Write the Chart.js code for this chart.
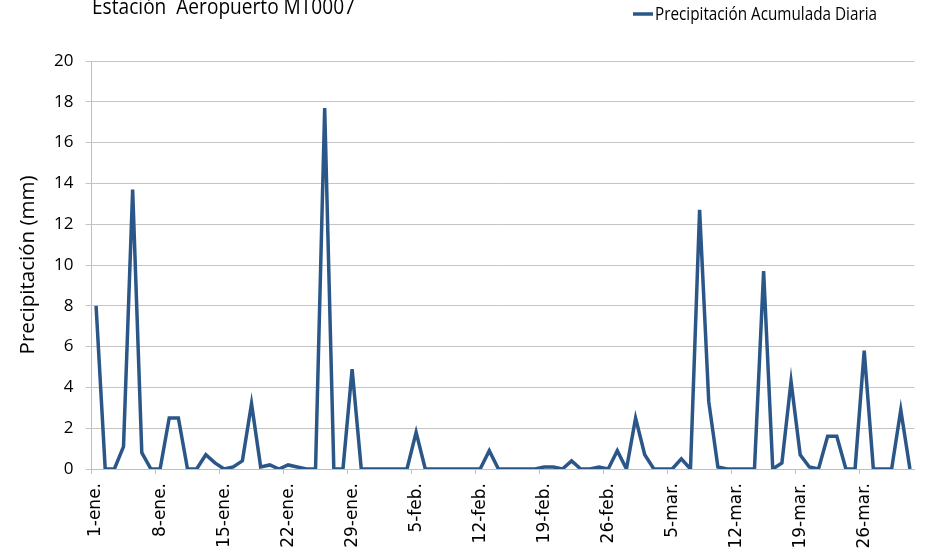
<!DOCTYPE html>
<html>
<head>
<meta charset="utf-8">
<script src="https://cdn.jsdelivr.net/npm/chart.js@4.4.1/dist/chart.umd.min.js"></script>
<style>
html,body{margin:0;padding:0;background:#fff;}
#wrap{width:926px;height:552px;position:relative;}
</style>
</head>
<body>
<div id="wrap"><canvas id="c" width="926" height="552"></canvas></div>
<script>
const chartTitle = 'Estación  Aeropuerto MT0007';
const seriesName = 'Precipitación Acumulada Diaria';
const yAxisTitle = 'Precipitación (mm)';

const categories = [
 '1-ene.','2-ene.','3-ene.','4-ene.','5-ene.','6-ene.','7-ene.','8-ene.','9-ene.','10-ene.',
 '11-ene.','12-ene.','13-ene.','14-ene.','15-ene.','16-ene.','17-ene.','18-ene.','19-ene.','20-ene.',
 '21-ene.','22-ene.','23-ene.','24-ene.','25-ene.','26-ene.','27-ene.','28-ene.','29-ene.','30-ene.','31-ene.',
 '1-feb.','2-feb.','3-feb.','4-feb.','5-feb.','6-feb.','7-feb.','8-feb.','9-feb.','10-feb.',
 '11-feb.','12-feb.','13-feb.','14-feb.','15-feb.','16-feb.','17-feb.','18-feb.','19-feb.','20-feb.',
 '21-feb.','22-feb.','23-feb.','24-feb.','25-feb.','26-feb.','27-feb.','28-feb.',
 '1-mar.','2-mar.','3-mar.','4-mar.','5-mar.','6-mar.','7-mar.','8-mar.','9-mar.','10-mar.',
 '11-mar.','12-mar.','13-mar.','14-mar.','15-mar.','16-mar.','17-mar.','18-mar.','19-mar.','20-mar.',
 '21-mar.','22-mar.','23-mar.','24-mar.','25-mar.','26-mar.','27-mar.','28-mar.','29-mar.','30-mar.','31-mar.'
];

const precipitation = [
 8.0, 0, 0, 1.1, 13.7, 0.8, 0, 0, 2.5, 2.5,
 0, 0, 0.7, 0.3, 0, 0.1, 0.4, 3.2, 0.1, 0.2,
 0, 0.2, 0.1, 0, 0, 17.7, 0, 0, 4.9, 0, 0,
 0, 0, 0, 0, 1.8, 0, 0, 0, 0, 0,
 0, 0, 0.9, 0, 0, 0, 0, 0, 0.1, 0.1,
 0, 0.4, 0, 0, 0.1, 0, 0.9, 0,
 2.5, 0.7, 0, 0, 0, 0.5, 0, 12.7, 3.3, 0.1,
 0, 0, 0, 0, 9.7, 0, 0.3, 4.3, 0.7, 0.1,
 0, 1.6, 1.6, 0, 0, 5.8, 0, 0, 0, 2.9, 0
];

const tickLabels = ['1-ene.','8-ene.','15-ene.','22-ene.','29-ene.','5-feb.','12-feb.','19-feb.','26-feb.','5-mar.','12-mar.','19-mar.','26-mar.'];
const yMin = 0, yMax = 20, yStep = 2;

const lineColor = '#2a5788';
const gridColor = '#c4c4c4';

function fitText(ctx, text, x, y, targetWidth) {
  const w = ctx.measureText(text).width;
  const sx = w > 0 ? targetWidth / w : 1;
  ctx.save();
  ctx.translate(x, y);
  ctx.scale(sx, 1);
  ctx.fillText(text, 0, 0);
  ctx.restore();
}

const headerPlugin = {
  id: 'header',
  afterDraw(chart) {
    const ctx = chart.ctx;
    ctx.save();
    ctx.fillStyle = '#000';
    ctx.textBaseline = 'alphabetic';
    ctx.textAlign = 'left';
    ctx.font = '22px "Open Sans", sans-serif';
    fitText(ctx, chartTitle, 92, 14, 263);
    // legend
    ctx.strokeStyle = chart.data.datasets[0].borderColor;
    ctx.lineWidth = 3.5;
    ctx.beginPath();
    ctx.moveTo(633, 14);
    ctx.lineTo(653, 14);
    ctx.stroke();
    ctx.font = '18.5px "Open Sans", sans-serif';
    ctx.textBaseline = 'middle';
    fitText(ctx, chart.data.datasets[0].label, 655, 15, 222);
    ctx.restore();
  }
};

new Chart(document.getElementById('c'), {
  type: 'line',
  data: {
    labels: categories,
    datasets: [{
      label: seriesName,
      data: precipitation,
      borderColor: lineColor,
      backgroundColor: lineColor,
      borderWidth: 3.5,
      pointRadius: 0,
      tension: 0,
      fill: false
    }]
  },
  options: {
    responsive: false,
    animation: false,
    devicePixelRatio: 1,
    layout: { padding: { top: 61, right: 11.5, left: 0, bottom: 0 } },
    plugins: {
      legend: { display: false },
      title: { display: false },
      tooltip: { enabled: false }
    },
    scales: {
      x: {
        type: 'category',
        offset: true,
        afterFit(scale) {
          scale.height = 83;
          scale.paddingLeft = 0;
          scale.paddingRight = 0;
        },
        grid: {
          offset: true,
          drawOnChartArea: false,
          drawTicks: true,
          tickLength: 5,
          color: (ctx) => (ctx.index % 7 === 0 && ctx.index < categories.length) ? '#bfbfbf' : 'rgba(0,0,0,0)'
        },
        border: { color: '#bfbfbf', width: 1 },
        ticks: {
          autoSkip: false,
          maxRotation: 90,
          minRotation: 90,
          padding: 9,
          color: '#000',
          font: { family: '"DejaVu Sans", sans-serif', size: 17 },
          callback: (v, i) => tickLabels.includes(categories[i]) ? categories[i] : ''
        }
      },
      y: {
        min: yMin,
        max: yMax,
        afterFit(scale) { scale.width = 91.5; },
        ticks: {
          stepSize: yStep,
          padding: 12,
          color: '#000',
          font: { family: '"Open Sans", sans-serif', size: 17 }
        },
        grid: { color: gridColor, tickLength: 6, lineWidth: 1 },
        border: { color: '#bfbfbf', width: 1 },
        title: {
          display: true,
          text: yAxisTitle,
          color: '#000',
          font: { family: '"Open Sans", sans-serif', size: 20.5 },
          padding: { top: 16, bottom: 0 }
        }
      }
    }
  },
  plugins: [headerPlugin]
});
</script>
</body>
</html>
